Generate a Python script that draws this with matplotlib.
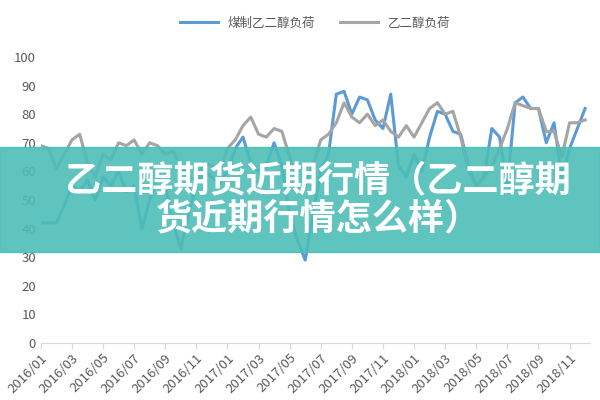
import numpy as np
import matplotlib
matplotlib.use("Agg")
import matplotlib.pyplot as plt
from matplotlib.patches import Rectangle

plt.rcParams['font.family'] = ['Noto Sans CJK SC', 'DejaVu Sans']

# half-month steps starting 2016/01
months = np.arange(0, 35.5, 0.5)
coal_meg = [42, 42, 42, 48, 55, 53, 57, 50, 58, 55, 60, 53, 55, 40, 50, 58, 55, 42, 33, 45,
            55, 60, 58, 56, 60, 68, 72, 63, 60, 62, 70, 62, 45, 36, 29, 45, 60, 66, 87, 88,
            80, 86, 85, 78, 75, 87, 62, 58, 66, 60, 72, 81, 80, 74, 73, 62, 55, 58, 75, 72,
            55, 84, 86, 82, 82, 70, 77, 58, 68, 75, 82]
meg = [69, 68, 61, 66, 71, 73, 63, 58, 66, 64, 70, 69, 71, 66, 70, 69, 66, 67, 62, 58,
       57, 63, 62, 60, 68, 71, 76, 79, 73, 72, 75, 74, 65, 55, 55, 62, 71, 73, 77, 84,
       79, 77, 80, 76, 78, 74, 72, 76, 72, 77, 82, 84, 80, 81, 72, 60, 55, 58, 62, 68,
       75, 84, 83, 82, 82, 74, 74, 65, 77, 77, 78]
tick_months = list(range(0, 35, 2))
tick_labels = [f"{2016 + m // 12}/{m % 12 + 1:02d}" for m in tick_months]

fig = plt.figure(figsize=(6, 4), dpi=100)
ax = fig.add_axes([0.068, 0.1425, 0.915, 0.715])
ax.plot(months, coal_meg, color="#5b9bd5", lw=2.2, label="煤制乙二醇负荷")
ax.plot(months, meg, color="#a5a5a5", lw=2.2, label="乙二醇负荷")
ax.set_xlim(0, 35.3)
ax.set_ylim(0, 100)
ax.set_yticks(range(0, 101, 10))
ax.set_xticks(tick_months)
ax.set_xticklabels(tick_labels, rotation=45, ha="right", rotation_mode="anchor")
ax.tick_params(colors="#595959", labelsize=9.5, length=0)
ax.tick_params(axis="x", length=4, color="#d9d9d9", pad=2)
for s in ("top", "right", "left"):
    ax.spines[s].set_visible(False)
ax.spines["bottom"].set_color("#d9d9d9")
ax.legend(loc="upper center", bbox_to_anchor=(0.5, 1.18), ncol=2, frameon=False,
          fontsize=9, labelcolor="#595959", handlelength=3)

fig.patches.append(Rectangle((0, 0.37), 1, 0.2625, transform=fig.transFigure,
                             color="#4dbdb7", alpha=0.9, zorder=5))
fig.text(0.53, 0.5, "乙二醇期货近期行情（乙二醇期\n货近期行情怎么样）", color="white",
         fontsize=26, fontweight="bold", ha="center", va="center", zorder=6,
         linespacing=1.05)

fig.savefig("out.png", dpi=100)
